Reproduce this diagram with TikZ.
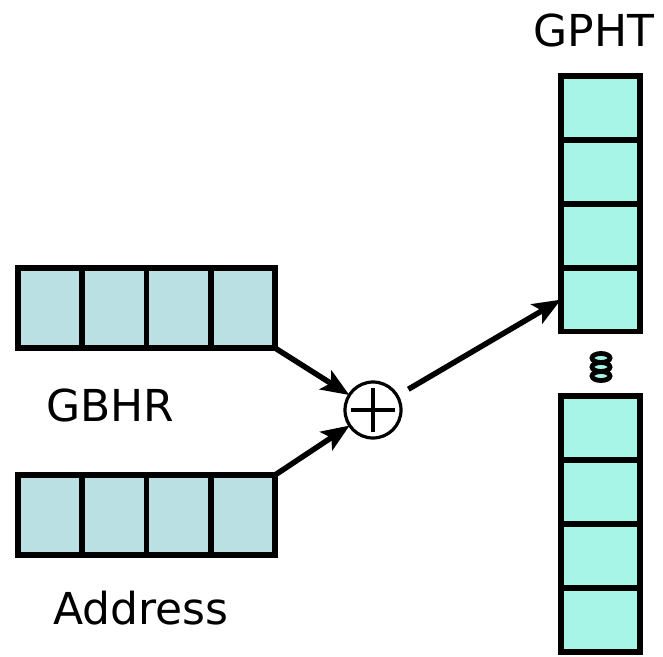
\documentclass[tikz,border=0pt]{standalone}
\usepackage{fontspec}
\setmainfont{DejaVu Sans}
\usetikzlibrary{arrows.meta}
\definecolor{regblue}{HTML}{BBE0E3}
\definecolor{tblaqua}{HTML}{A6F5E6}
\tikzset{
  regcell/.style={draw=black, line width=5.8pt, fill=regblue, minimum width=64.25pt, minimum height=80pt, inner sep=0pt, outer sep=0pt},
  tblcell/.style={draw=black, line width=5.8pt, fill=tblaqua, minimum width=79pt, minimum height=63.9pt, inner sep=0pt, outer sep=0pt},
  lbl/.style={font=\fontsize{44}{48}\selectfont, inner sep=0pt},
  conn/.style={line width=5.5pt, -{Stealth[length=28pt,width=22pt,inset=6pt]}},
  xorop/.style={circle, draw=black, line width=3.2pt, minimum size=56pt, inner sep=0pt, outer sep=0pt, fill=white},
  dotring/.style={draw=black, line width=4.8pt, fill=tblaqua}
}
\begin{document}
\begin{tikzpicture}[x=1pt,y=-1pt]
\useasboundingbox (0,0) rectangle (663,656);
% GBHR register
\node[regcell] (g1) at (50.1,308) {};
\node[regcell] (g2) at (114.4,308) {};
\node[regcell] (g3) at (178.6,308) {};
\node[regcell] (g4) at (242.9,308) {};
% Address register
\node[regcell] (a1) at (50.1,515) {};
\node[regcell] (a2) at (114.4,515) {};
\node[regcell] (a3) at (178.6,515) {};
\node[regcell] (a4) at (242.9,515) {};
% GPHT upper
\node[tblcell] (p1) at (600.5,107.9) {};
\node[tblcell] (p2) at (600.5,171.8) {};
\node[tblcell] (p3) at (600.5,235.7) {};
\node[tblcell] (p4) at (600.5,299.6) {};
% GPHT lower
\node[tblcell] (q1) at (600.5,428) {};
\node[tblcell] (q2) at (600.5,492) {};
\node[tblcell] (q3) at (600.5,556) {};
\node[tblcell] (q4) at (600.5,620) {};
% vertical ellipsis
\draw[dotring] (601,358) ellipse [x radius=9pt, y radius=4.5pt];
\draw[dotring] (601,367) ellipse [x radius=9pt, y radius=4.5pt];
\draw[dotring] (601,376) ellipse [x radius=9pt, y radius=4.5pt];
% XOR
\node[xorop] (x) at (373,410) {};
\draw[line width=3.5pt] ([xshift=-22pt]x.center) -- ([xshift=22pt]x.center);
\draw[line width=3.5pt] ([yshift=-22pt]x.center) -- ([yshift=22pt]x.center);
% labels
\node[lbl] (lg) at (110,405) {GBHR};
\node[lbl] (la) at (141,608) {Address};
\node[lbl] (lp) at (594,30) {GPHT};
% connectors
\draw[conn] (g4.south east) -- (x);
\draw[conn] (a4.north east) -- (x);
\draw[conn, shorten <=13pt] (x) -- (p4.west);
\end{tikzpicture}
\end{document}
